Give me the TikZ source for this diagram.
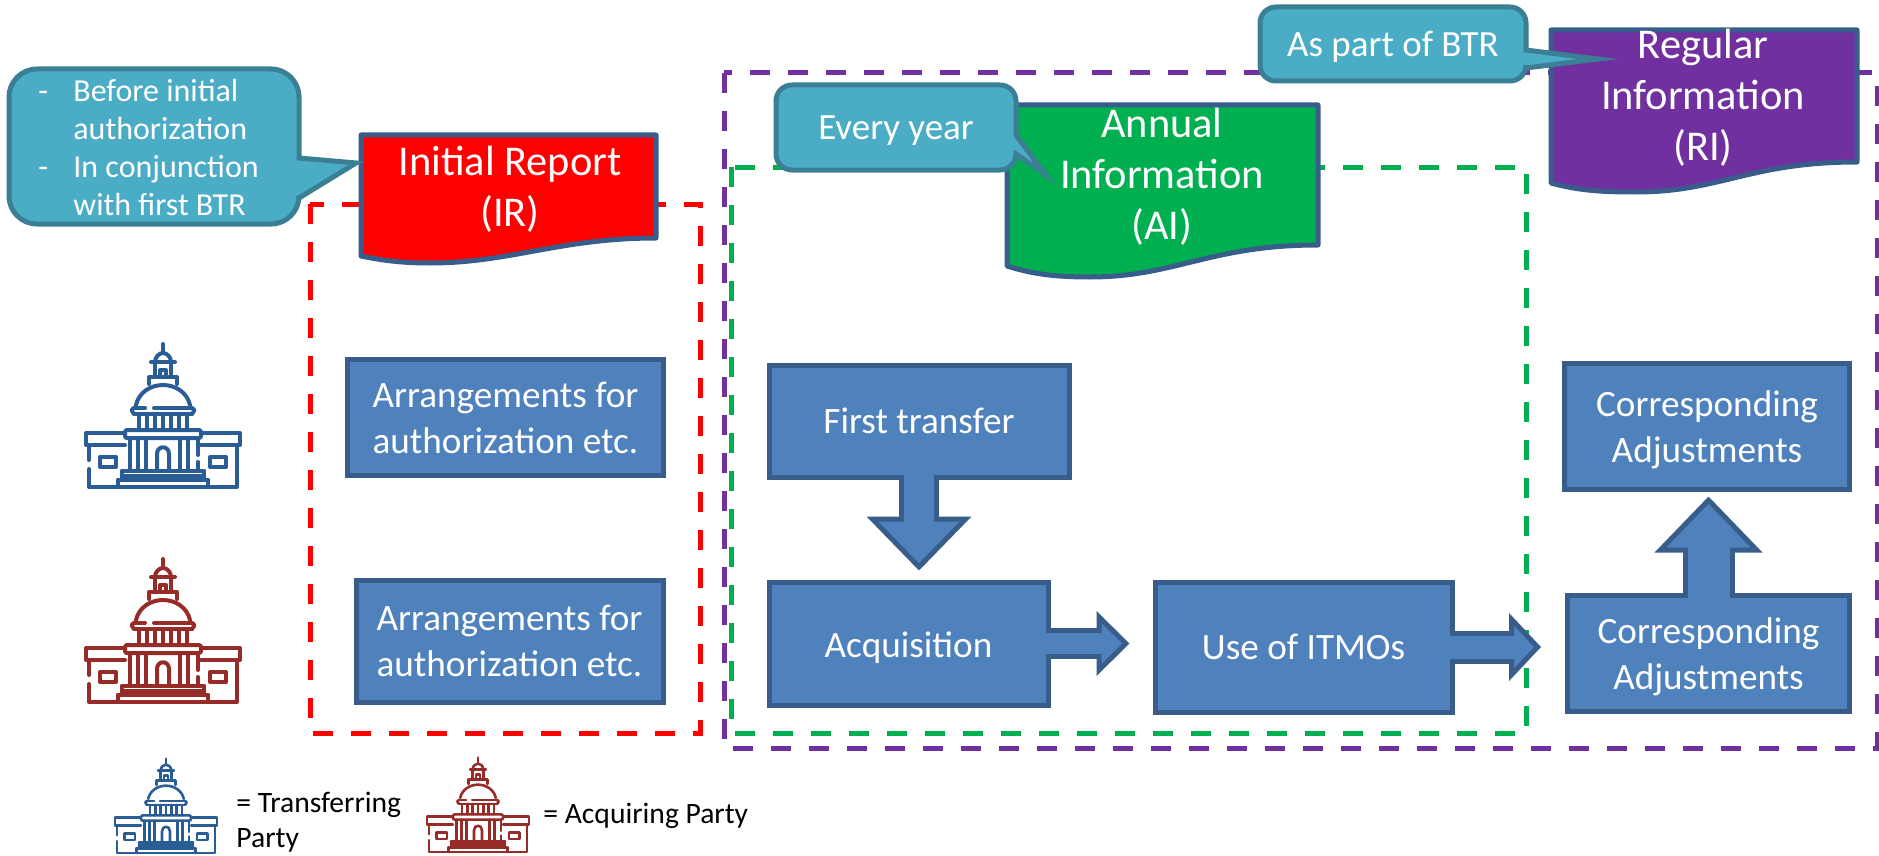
\documentclass[tikz,border=0pt]{standalone}
\usepackage{fontspec}
\setmainfont{Carlito}
\usetikzlibrary{arrows.meta}

\definecolor{boxfill}{HTML}{4F81BD}
\definecolor{boxedge}{HTML}{385D8A}
\definecolor{callfill}{HTML}{4BACC6}
\definecolor{calledge}{HTML}{3A7F93}
\definecolor{irred}{HTML}{FF0000}
\definecolor{aigreen}{HTML}{00B050}
\definecolor{ripurple}{HTML}{7030A0}
\definecolor{tpblue}{HTML}{2A5C96}
\definecolor{apred}{HTML}{962B28}

\tikzset{
  stepbox/.style={draw=boxedge, fill=boxfill, line width=2.5pt, text=white,
    align=center, inner sep=0pt, font=\fontsize{18.6}{23}\selectfont},
  docedge/.style={draw=boxedge, line width=2.5pt, line join=round},
  doctext/.style={text=white, align=center, inner sep=0pt,
    font=\fontsize{21.2}{25.5}\selectfont},
  calledgebox/.style={draw=calledge, fill=callfill, line width=2.5pt},
  calltext/.style={text=white, inner sep=0pt, font=\fontsize{18.5}{19}\selectfont},
  dashbox/.style={line width=2.5pt, dash pattern=on 10pt off 9pt},
  legendtext/.style={text=black, align=left, inner sep=0pt,
    font=\fontsize{14.8}{17.5}\selectfont},
  capline/.style={line width=#1, line cap=round, line join=round}
}

% shaft, head length, head width, gap at the tip, from, to
\newcommand{\blockarrow}[6]{
  \draw [line width=#1pt, boxedge, shorten >=#4pt,
    -{Triangle[length=#2pt, width=#3pt, fill=boxfill, line width=2.5pt]}] (#5) -- (#6);
  \draw [line width=#1pt-5pt, boxfill, shorten <=-3pt, shorten >=#4pt+#2pt-3pt] (#5) -- (#6);
}

% building, local units with y going up
\newcommand{\capitol}{
  \draw (0,143) -- (0,134);
  \draw (-8,125) .. controls (-8,130) and (-4,134) .. (0,134) .. controls (4,134) and (8,130) .. (8,125);
  \draw (-12,125) -- (12,125);
  \draw (-8,125) -- (-8,111);
  \draw (8,125) -- (8,111);
  \draw (-3,111) -- (-3,117) -- (3,117) -- (3,111);
  \draw (-14,103) -- (-14,110) -- (14,110) -- (14,103);
  %Dome
  \draw (-27,82) .. controls (-24,95) and (-12,102) .. (0,102) .. controls (12,102) and (24,95) .. (27,82);
  \draw (-29,79) -- (-18,79);
  \draw (-9,79) -- (29,79);
  \draw (-29,73) -- (29,73);
  \draw (-29,79) .. controls (-32,77) .. (-29,73);
  \draw (29,79) .. controls (32,77) .. (29,73);
  \foreach \colx in {-24,-16,-8,0,8,16,24}
    \draw (\colx,73) -- (\colx,57);
  %Columns
  \draw [rounded corners=1pt] (-38,49) rectangle (38,57);
  \foreach \colx in {-33,-25,-17,17,25}
    \draw (\colx,49) -- (\colx,16);
  \draw (35,49) -- (35,32);
  \draw (35,25) -- (35,16);
  \draw (-6,16) -- (-6,33) .. controls (-6,42) and (6,42) .. (6,33) -- (6,16);
  %Steps
  \draw (-41,16) -- (41,16);
  \draw (-41,16) -- (-41,7);
  \draw (41,16) -- (41,7);
  \draw (-41,11) -- (41,11);
  \draw (-45,7) -- (45,7);
  \draw (-45,7) -- (-45,0);
  \draw (45,7) -- (45,0);
  %Wings
  \draw (-38,54) -- (-77,54) -- (-77,42) -- (-38,42);
  \draw (38,54) -- (77,54) -- (77,42) -- (38,42);
  \draw (-74,42) -- (-74,27);
  \draw (-74,18) -- (-74,0) -- (74,0) -- (74,42);
  \draw (-63,20) rectangle (-47,30);
  \draw (47,20) rectangle (63,30);
}

\begin{document}
\begin{tikzpicture}[x=.5pt, y=-.5pt]
  \useasboundingbox (0,0) rectangle (1879,856);

  %Dashed frames
  \draw [dashbox, irred] (310,204) rectangle (700,733);
  \draw [dashbox, ripurple] (724,73) rectangle (1877,748);
  \draw [dashbox, aigreen] (731,167) rectangle (1526,733);

  %Initial report
  \draw [docedge, fill=irred] (361,135) -- (656,135) -- (656,238)
    .. controls (560,238) and (510,263) .. (430,263)
    .. controls (405,263) and (385,261) .. (361,256) -- cycle;
  \node [doctext] (ir) at (510,189) {Initial Report\\(IR)};

  %Annual information
  \draw [docedge, fill=aigreen] (1007,105) -- (1318,105) -- (1318,245)
    .. controls (1210,245) and (1175,277) .. (1090,277)
    .. controls (1060,277) and (1035,275) .. (1007,266) -- cycle;
  \node [doctext] (ai) at (1162,177) {Annual\\Information\\(AI)};

  %Regular information
  \draw [docedge, fill=ripurple] (1551,30) -- (1857,30) -- (1857,162)
    .. controls (1750,162) and (1720,192) .. (1636,192)
    .. controls (1605,192) and (1580,191) .. (1551,183) -- cycle;
  \node [doctext] (ri) at (1703,98) {Regular\\Information\\(RI)};

  %Callouts
  \draw [calledgebox] (150,69) [rounded corners=14pt] -- (299,69) [sharp corners] -- (299,158)
    -- (356,163) -- (299,198) [rounded corners=14pt] -- (299,224)
    -- (9,224) -- (9,69) -- cycle;
  \node [calltext, font=\fontsize{16}{19}\selectfont, align=left, anchor=west] (before) at (38,148) {
    \makebox[17.5pt][l]{-}Before initial\\
    \hspace*{17.5pt}authorization\\
    \makebox[17.5pt][l]{-}In conjunction\\
    \hspace*{17.5pt}with first BTR};

  \draw [calledgebox] (900,85) [rounded corners=8pt] -- (1016,85) [sharp corners] -- (1016,135)
    -- (1045,174) -- (1016,154) [rounded corners=8pt] -- (1016,170)
    -- (776,170) -- (776,85) -- cycle;
  \node [calltext] (every) at (896,131) {Every year};

  \draw [calledgebox] (1390,7) [rounded corners=8pt] -- (1526,7) [sharp corners] -- (1526,50)
    -- (1598,59) -- (1526,68) [rounded corners=8pt] -- (1526,81)
    -- (1260,81) -- (1260,7) -- cycle;
  \node [calltext] (aspart) at (1393,47) {As part of BTR};

  %Steps
  \node [stepbox, minimum width=158pt, minimum height=58pt] (arrt) at (505.5,417.5)
    {Arrangements for\\authorization etc.};
  \node [stepbox, minimum width=153.5pt, minimum height=61pt] (arra) at (509.5,641)
    {Arrangements for\\authorization etc.};
  \node [stepbox, minimum width=150pt, minimum height=56pt] (first) at (919,421)
    {First transfer};
  \node [stepbox, minimum width=139.5pt, minimum height=61.5pt] (acq) at (908.5,643.5)
    {\rule{0pt}{17pt}Acquisition};
  \node [stepbox, minimum width=148.5pt, minimum height=65pt] (use) at (1303.5,647)
    {Use of ITMOs};
  \node [stepbox, minimum width=142.5pt, minimum height=63pt] (adjt) at (1707,426)
    {\rule{0pt}{17pt}Corresponding\\Adjustments};
  \node [stepbox, minimum width=141pt, minimum height=58pt] (adja) at (1708.5,653)
    {\rule{0pt}{17pt}Corresponding\\Adjustments};

  %Flow
  \blockarrow{20}{27}{52}{4.5}{first.south}{first.south |- acq.north}
  \blockarrow{15.5}{16.5}{32}{11.5}{acq.east}{acq.east -| use.west}
  \blockarrow{16.5}{16}{33.5}{12}{use.east}{use.east -| adja.west}
  \blockarrow{26}{28}{53.5}{2.5}{adja.north}{adja.north |- adjt.south}

  %Buildings
  \begin{scope}[shift={(163,487)}, yscale=-1, tpblue, capline=2pt]
    \capitol
  \end{scope}
  \begin{scope}[shift={(163,702)}, yscale=-1, apred, capline=2pt]
    \capitol
  \end{scope}

  %Legend
  \begin{scope}[shift={(166,853)}, scale=.66, yscale=-1, tpblue, capline=1.3pt]
    \capitol
  \end{scope}
  \begin{scope}[shift={(478,852)}, scale=.66, yscale=-1, apred, capline=1.3pt]
    \capitol
  \end{scope}
  \node [legendtext, anchor=west] (transfer) at (236,822) {= Transferring\\Party};
  \node [legendtext, anchor=west] (acquire) at (543,816) {= Acquiring Party};

\end{tikzpicture}
\end{document}
